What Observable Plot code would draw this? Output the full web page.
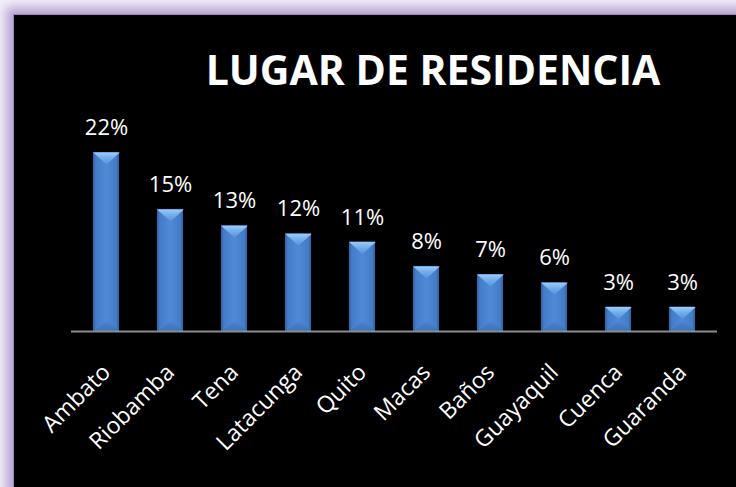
<!DOCTYPE html>
<html><head><meta charset="utf-8">
<script src="https://cdn.jsdelivr.net/npm/d3@7"></script>
<script src="https://cdn.jsdelivr.net/npm/@observablehq/plot@0.6"></script>
<style>
html,body{margin:0;padding:0;background:#fff;}
#wrap{position:relative;width:736px;height:487px;overflow:hidden;background:#f4f0f9;}
#panel{position:absolute;left:14px;top:15px;width:760px;height:500px;background:#000;
  box-shadow:0 0 0 1px #9a83be, -2px -2px 10px 6px #b7a1d4;}
#title{position:absolute;left:433px;top:49px;transform:translateX(-50%);white-space:nowrap;
  font-family:"Open Sans",sans-serif;font-weight:700;font-size:41px;line-height:41px;color:#fff;}
#chart{position:absolute;left:0;top:0;}
</style>
</head><body>
<div id="wrap"><div id="panel"></div><div id="title">LUGAR DE RESIDENCIA</div><div id="chart"></div></div>
<script>
const cities = ["Ambato","Riobamba","Tena","Latacunga","Quito","Macas","Baños","Guayaquil","Cuenca","Guaranda"];
const percents = [22,15,13,12,11,8,7,6,3,3];
const data = cities.map((c,i)=>({city:c, pct:percents[i]}));

const topBevel = {draw(ctx){ ctx.moveTo(-13.3,0); ctx.lineTo(13.3,0); ctx.lineTo(0,12); ctx.closePath(); }};
const bottomBevel = {draw(ctx){ ctx.moveTo(-13.3,0); ctx.lineTo(13.3,0); ctx.lineTo(0,-10); ctx.closePath(); }};

const plot = Plot.plot({
  width: 736, height: 487,
  marginLeft: 71, marginRight: 19, marginTop: 152, marginBottom: 156,
  style: {background: "transparent", color: "white", fontFamily: "Open Sans, sans-serif", overflow: "visible"},
  x: {domain: cities, paddingInner: 0.59, paddingOuter: 0.295, axis: null},
  y: {domain: [0, 22], axis: null},
  marks: [
    Plot.barY(data, {x: "city", y: "pct", fill: "url(#barGrad)"}),
    Plot.dot(data, {x: "city", y: 0, symbol: bottomBevel, fill: "url(#botGrad)", stroke: "none"}),
    Plot.dot(data, {x: "city", y: "pct", symbol: topBevel, fill: "url(#topGrad)", stroke: "none"}),
    Plot.ruleY([0], {stroke: "#8c8c8c", strokeWidth: 2}),
    Plot.text(data, {x: "city", y: "pct", text: d => d.pct + "%", dy: -17.5, lineAnchor: "bottom", fill: "white", fontSize: 22}),
    Plot.axisX({tickSize: 0, tickPadding: 37, tickRotate: -45, fontSize: 23, fill: "white", label: null})
  ]
});

const defs = d3.select(plot).insert("defs", ":first-child");
const g1 = defs.append("linearGradient").attr("id","barGrad").attr("x1",0).attr("x2",1).attr("y1",0).attr("y2",0);
[[0,"#2f63ab"],[0.12,"#447dca"],[0.5,"#4f8ad7"],[0.88,"#447dca"],[1,"#2f62a8"]].forEach(([o,c])=>g1.append("stop").attr("offset",o).attr("stop-color",c));
const g2 = defs.append("linearGradient").attr("id","topGrad").attr("x1",0).attr("x2",0).attr("y1",0).attr("y2",1);
[[0,"#9cccf8"],[0.4,"#78b0ee"],[1,"#5592dc"]].forEach(([o,c])=>g2.append("stop").attr("offset",o).attr("stop-color",c));
const g3 = defs.append("linearGradient").attr("id","botGrad").attr("x1",0).attr("x2",0).attr("y1",0).attr("y2",1);
[[0,"#4a83cd"],[1,"#3a70b9"]].forEach(([o,c])=>g3.append("stop").attr("offset",o).attr("stop-color",c));

document.getElementById("chart").appendChild(plot);
</script>
</body></html>
